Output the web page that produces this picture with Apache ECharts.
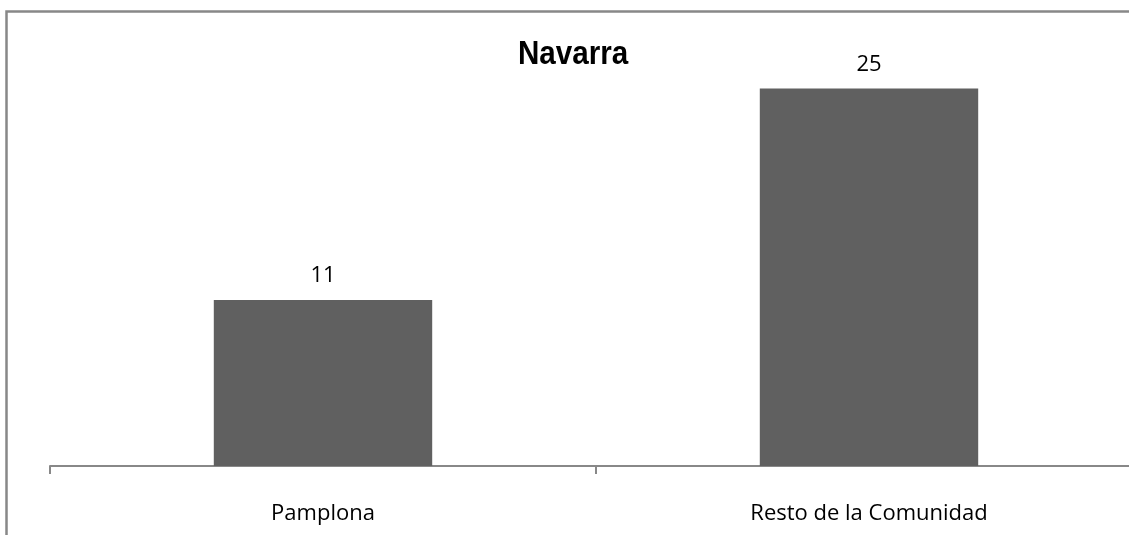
<!DOCTYPE html>
<html>
<head>
<meta charset="utf-8">
<script src="https://cdn.jsdelivr.net/npm/echarts@6/dist/echarts.min.js"></script>
<style>
html,body{margin:0;padding:0;overflow:hidden;background:#ffffff;}
#c{width:1160px;height:535px;}
</style>
</head>
<body>
<div id="c"></div>
<script>
const titleText = 'Navarra';
const categories = ['Pamplona', 'Resto de la Comunidad'];
const values = [11, 25];

const chart = echarts.init(document.getElementById('c'), null, {renderer: 'canvas'});
chart.setOption({
  animation: false,
  backgroundColor: '#ffffff',
  graphic: [{
    type: 'rect',
    shape: {x: 6.5, y: 11.5, width: 1300, height: 700},
    style: {fill: 'none', stroke: '#888888', lineWidth: 2.5},
    silent: true,
    z: 100
  }, {
    type: 'text',
    x: 518,
    y: 55,
    scaleX: 0.87,
    style: {
      text: titleText,
      fill: '#000000',
      font: 'bold 34px "Liberation Sans", Arial, sans-serif',
      align: 'left',
      verticalAlign: 'middle'
    },
    silent: true,
    z: 100
  }],
  grid: {left: 50, top: 13, width: 1092, height: 453, containLabel: false},
  xAxis: {
    type: 'category',
    data: categories,
    boundaryGap: true,
    axisLine: {show: true, lineStyle: {color: '#888888', width: 2}},
    axisTick: {show: true, alignWithLabel: false, length: 8, lineStyle: {color: '#888888', width: 2}},
    axisLabel: {
      margin: 37,
      fontFamily: '"Open Sans", sans-serif',
      fontSize: 22,
      color: '#000000'
    },
    splitLine: {show: false}
  },
  yAxis: {
    type: 'value',
    min: 0,
    max: 30,
    interval: 5,
    show: false
  },
  series: [{
    type: 'bar',
    data: values,
    barWidth: '40%',
    itemStyle: {color: '#606060'},
    label: {
      show: true,
      position: 'top',
      distance: 13,
      fontFamily: '"Open Sans", sans-serif',
      fontSize: 22,
      color: '#000000'
    }
  }]
});
</script>
</body>
</html>
